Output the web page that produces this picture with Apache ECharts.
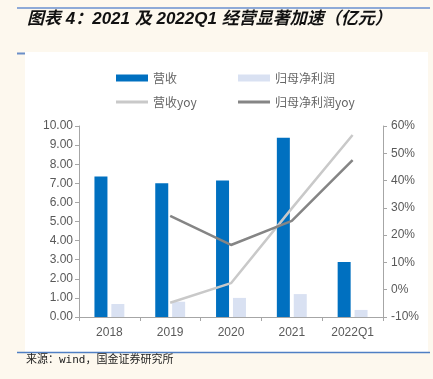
<!DOCTYPE html>
<html><head><meta charset="utf-8">
<script src="https://cdn.jsdelivr.net/npm/echarts@6/dist/echarts.min.js"></script>
<style>html,body{margin:0;padding:0;background:#fdf8ee;}#c{width:433px;height:379px;}</style>
</head><body><div id="c"></div>
<script>
const categories = ['2018', '2019', '2020', '2021', '2022Q1'];
const revenue = [7.35, 7.0, 7.15, 9.38, 2.88];
const netProfit = [0.68, 0.80, 1.0, 1.2, 0.37];
const revenueYoy = [null, -4.8, 2.4, 29.8, 56.7];
const netProfitYoy = [null, 27.1, 16.4, 25.2, 47.5];
const leftTicks = {min: 0, max: 10, interval: 1};
const rightTicks = {min: -10, max: 60, interval: 10};

const chart = echarts.init(document.getElementById('c'));
const legText = {color: '#666666', fontSize: 12, fontFamily: 'Noto Sans CJK SC'};
chart.setOption({
  backgroundColor: '#fdf8ee',
  animation: false,
  graphic: [
    {type: 'rect', shape: {x: 25, y: 52, width: 403, height: 300}, style: {fill: '#ffffff'}, z: -10},
    {type: 'line', shape: {x1: 17, y1: 8, x2: 430, y2: 8}, style: {stroke: '#8eaad8', lineWidth: 2}},
    {type: 'line', shape: {x1: 17, y1: 53.5, x2: 25, y2: 53.5}, style: {stroke: '#6a8fc8', lineWidth: 2}},
    {type: 'line', shape: {x1: 17, y1: 352.5, x2: 430, y2: 352.5}, style: {stroke: '#4f7fc4', lineWidth: 1.5}},
    {type: 'text', x: 27, y: 11, style: {text: '图表 4：2021 及 2022Q1 经营显著加速（亿元）', fill: '#111', font: 'italic bold 17px "Liberation Sans", "Noto Sans CJK SC"'}},
    {type: 'text', x: 26, y: 355, style: {text: '来源：wind，国金证券研究所', fill: '#222', font: '11px "DejaVu Sans Mono", "Noto Sans CJK SC"'}}
  ],
  legend: [
    {left: 111, top: 67, itemWidth: 32, itemHeight: 7, itemGap: 8, icon: 'rect', textStyle: legText, data: ['营收']},
    {left: 233, top: 67, itemWidth: 32, itemHeight: 7, icon: 'rect', textStyle: legText, data: ['归母净利润']},
    {left: 111, top: 91, itemWidth: 32, itemHeight: 3, icon: 'rect', textStyle: legText, data: ['营收yoy']},
    {left: 233, top: 91, itemWidth: 32, itemHeight: 3, icon: 'rect', textStyle: legText, data: ['归母净利润yoy']}
  ],
  grid: {left: 79, right: 50, top: 126, bottom: 62},
  xAxis: {
    type: 'category', data: categories,
    axisLine: {lineStyle: {color: '#a6a6a6'}},
    axisTick: {show: true, lineStyle: {color: '#a6a6a6'}, length: 4},
    axisLabel: {color: '#595959', fontSize: 12, fontFamily: 'Liberation Sans', margin: 10}
  },
  yAxis: [
    {type: 'value', min: leftTicks.min, max: leftTicks.max, interval: leftTicks.interval,
     axisLine: {show: true, lineStyle: {color: '#a6a6a6'}},
     axisTick: {show: true, length: 4, lineStyle: {color: '#a6a6a6'}},
     splitLine: {show: false},
     axisLabel: {color: '#595959', fontSize: 12, fontFamily: 'Liberation Sans', margin: 6, formatter: v => v.toFixed(2)}},
    {type: 'value', min: rightTicks.min, max: rightTicks.max, interval: rightTicks.interval,
     axisLine: {show: true, lineStyle: {color: '#a6a6a6'}},
     axisTick: {show: true, length: 4, lineStyle: {color: '#a6a6a6'}},
     splitLine: {show: false},
     axisLabel: {color: '#595959', fontSize: 12, fontFamily: 'Liberation Sans', margin: 8, formatter: '{value}%'}}
  ],
  series: [
    {name: '营收', type: 'bar', data: revenue, barWidth: 13, barGap: '30%', itemStyle: {color: '#0070c0'}},
    {name: '归母净利润', type: 'bar', data: netProfit, barWidth: 13, itemStyle: {color: '#d9e1f2'}},
    {name: '营收yoy', type: 'line', yAxisIndex: 1, data: revenueYoy, showSymbol: false, symbol: 'none', lineStyle: {color: '#c9c9c9', width: 2.5}, itemStyle: {color: '#c9c9c9'}},
    {name: '归母净利润yoy', type: 'line', yAxisIndex: 1, data: netProfitYoy, showSymbol: false, symbol: 'none', lineStyle: {color: '#858585', width: 2.5}, itemStyle: {color: '#858585'}}
  ]
});
</script></body></html>
